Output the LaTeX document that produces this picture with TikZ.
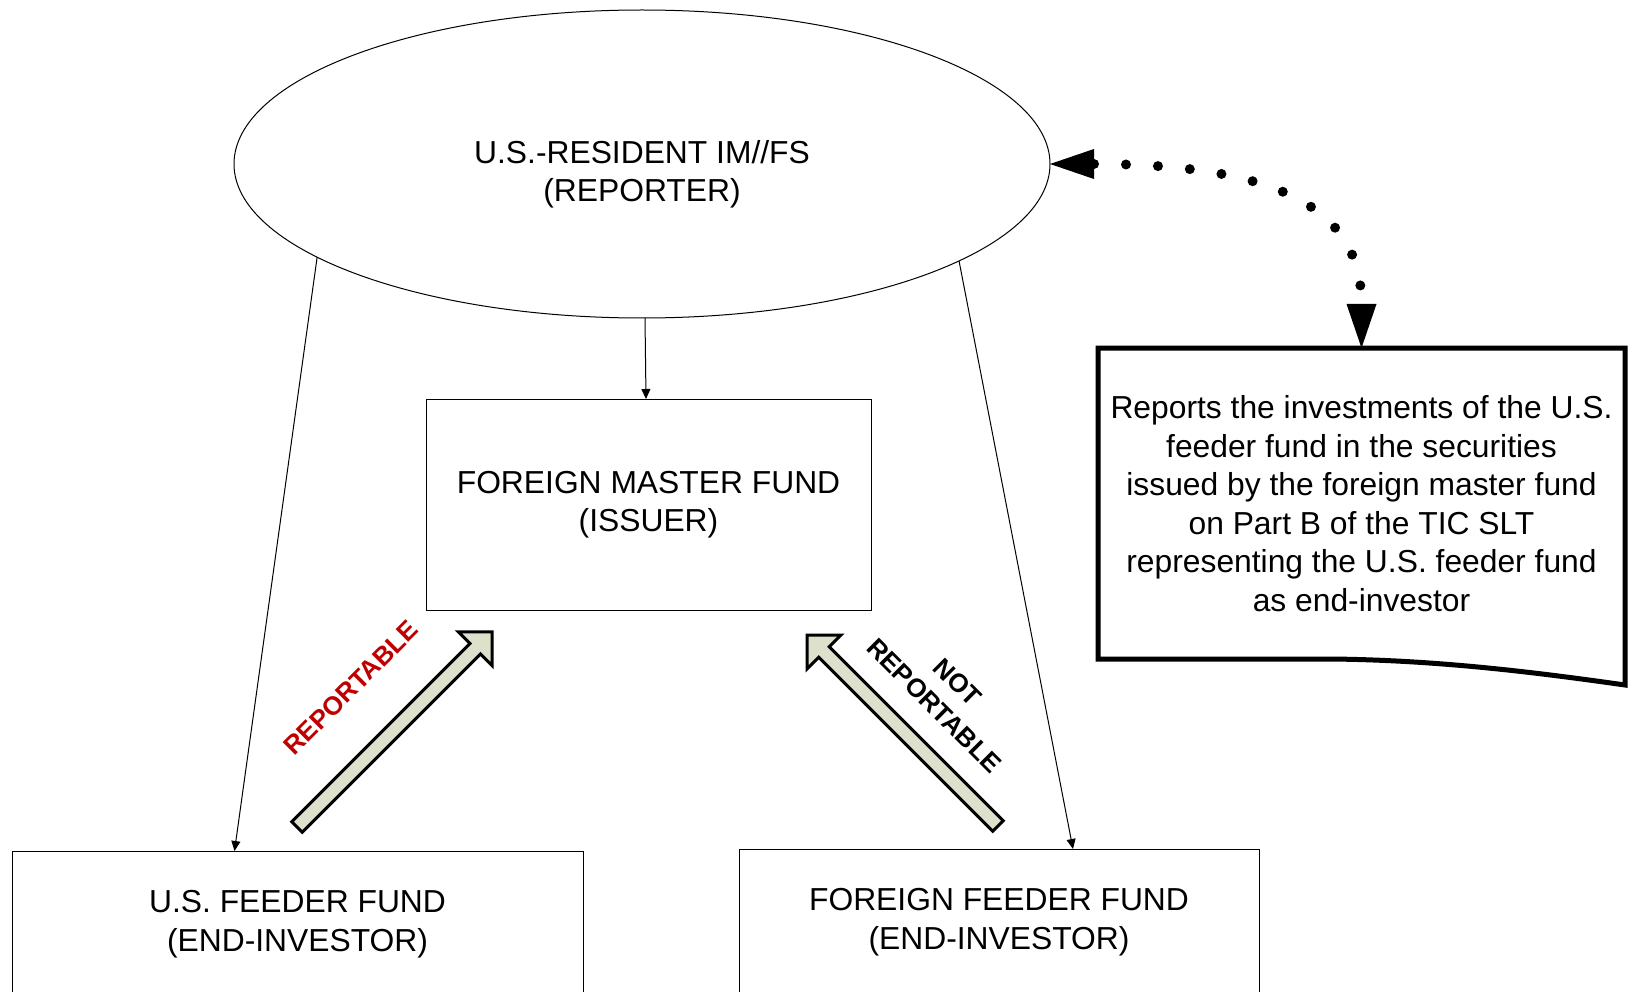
\documentclass[tikz,border=0pt]{standalone}
\usepackage{fontspec}
\setmainfont{Liberation Sans}
\usetikzlibrary{shapes.geometric,arrows.meta,calc}

\definecolor{arrowfill}{RGB}{221,224,203}
\definecolor{reportred}{RGB}{192,0,0}

\begin{document}
\begin{tikzpicture}[x=1pt,y=-1pt,
  every node/.style={inner sep=0pt, outer sep=0pt},
  bigtext/.style={font=\fontsize{31.8}{38.5}\selectfont, align=center},
  fundbox/.style={draw, line width=1pt, rectangle, bigtext},
  link/.style={line width=1pt, -{Triangle[length=10pt,width=9pt]}},
  dotlink/.style={line width=10pt, line cap=round, dash pattern=on 0pt off 32pt,
    {Triangle[length=44pt,width=30pt,line width=0pt]}-{Triangle[length=44pt,width=30pt,line width=0pt]}},
  blockarrow/.style={draw, line width=3pt, fill=arrowfill, line join=miter},
  docline/.style={line width=5pt, line join=miter},
  tag/.style={font=\fontsize{26}{33}\selectfont\bfseries, align=center},
]
\useasboundingbox (0,0) rectangle (1633,992);
\clip (0,0) rectangle (1633,992);

% reporter ellipse (the strut sets the text a little below the centre)
\node[ellipse, draw, line width=1pt, minimum width=816pt, minimum height=308pt, bigtext]
  (rep) at (642,164) {\rule{0pt}{44pt}U.S.-RESIDENT IM//FS\\(REPORTER)};

% funds
\node[fundbox, minimum width=445pt, minimum height=211pt] (mf) at (648.5,504.5)
  {FOREIGN MASTER FUND\\(ISSUER)};
\node[fundbox, minimum width=571pt, minimum height=146pt] (usf) at (297.5,924)
  {U.S. FEEDER FUND\\(END-INVESTOR)};
\node[fundbox, minimum width=520pt, minimum height=146pt] (ff) at (999,922)
  {FOREIGN FEEDER FUND\\(END-INVESTOR)};

% note (document shape)
\node[bigtext, minimum width=527pt, minimum height=311pt] (doc) at (1361.5,503.5)
  {Reports the investments of the U.S.\\feeder fund in the securities\\issued by the foreign master fund\\on Part B of the TIC SLT\\representing the U.S. feeder fund\\as end-investor};
\draw[docline] ($(doc.south east)+(0,26)$) -- (doc.north east) -- (doc.north west)
  -- (doc.south west) -- ($(doc.south west)+(232,0)$)
  .. controls ($(doc.south west)+(342,1)$) and ($(doc.south east)+(-85,14)$)
  .. ($(doc.south east)+(0,26)$) -- cycle;

% thin connectors
\draw[link] (rep.196.6) -- ([xshift=222.5pt]usf.north west);
\draw[link] (rep.343) -- ([xshift=334pt]ff.north west);
\draw[link] ([xshift=3pt]rep.south) -- ([xshift=-2.5pt]mf.north);

% dotted two-way connector
\draw[dotlink] (rep.east) .. controls ($(rep.east)+(230,0)$) and ($(doc.north)+(0,-138)$) .. (doc.north);

% block arrows
\begin{scope}[shift={(297,827)}, rotate=45]
  \draw[blockarrow] (0,-7.5) -- (252,-7.5) -- (252,-24) -- (276,0) -- (252,24) -- (252,7.5) -- (0,7.5) -- cycle;
\end{scope}
\begin{scope}[shift={(998,826)}, rotate=135]
  \draw[blockarrow] (0,-7.5) -- (246,-7.5) -- (246,-24) -- (270,0) -- (246,24) -- (246,7.5) -- (0,7.5) -- cycle;
\end{scope}

% labels
\node[tag, text=reportred, rotate=45] (lr) at (351,688) {REPORTABLE};
\node[tag, rotate=-45] (lnr) at (946,694) {NOT\\REPORTABLE};
\end{tikzpicture}
\end{document}
